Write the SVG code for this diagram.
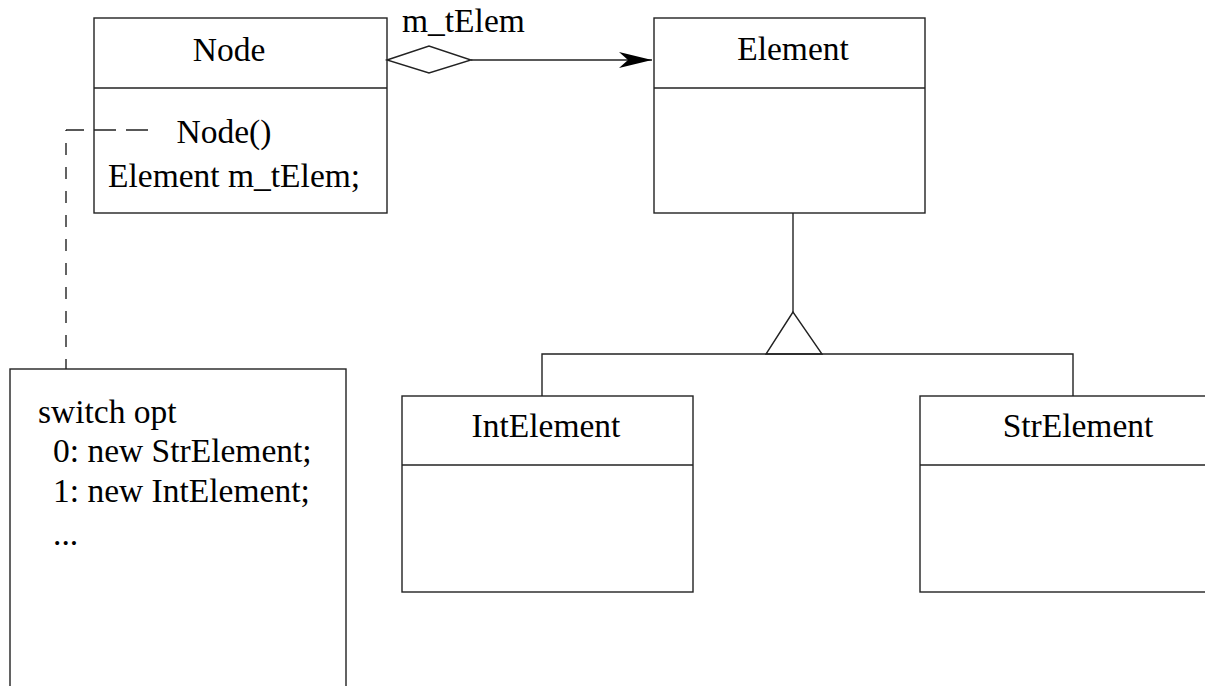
<svg xmlns="http://www.w3.org/2000/svg" width="1205" height="686" viewBox="0 0 1205 686">
<style>
.box{fill:#fff;stroke:#222;stroke-width:1.4}
.ln{fill:none;stroke:#222;stroke-width:1.4}
.dash{fill:none;stroke:#222;stroke-width:1.4}
text{font-family:"Liberation Serif","Times New Roman",serif;font-size:33.5px;fill:#000}
.c{text-anchor:middle}
</style>
<defs>
<marker id="arr" markerWidth="36" markerHeight="18" refX="33" refY="9" orient="auto" markerUnits="userSpaceOnUse">
<path d="M0,1 L33,9 L0,17 L9,9 Z" fill="#000"/>
</marker>
</defs>
<g id="node-Node">
<rect class="box" x="94" y="18" width="293" height="195"/>
<line class="ln" x1="94" y1="88" x2="387" y2="88"/>
<text class="c" x="229" y="61">Node</text>
<text class="c" x="224" y="143">Node()</text>
<text x="108" y="187">Element m_tElem;</text>
</g>
<g id="node-Element">
<rect class="box" x="654" y="18" width="271" height="195"/>
<line class="ln" x1="654" y1="88" x2="925" y2="88"/>
<text class="c" x="793" y="60">Element</text>
</g>
<g id="node-IntElement">
<rect class="box" x="402" y="396" width="291" height="196"/>
<line class="ln" x1="402" y1="465" x2="693" y2="465"/>
<text class="c" x="546" y="437">IntElement</text>
</g>
<g id="node-StrElement">
<rect class="box" x="920" y="396" width="300" height="196"/>
<line class="ln" x1="920" y1="465" x2="1220" y2="465"/>
<text class="c" x="1078" y="437">StrElement</text>
</g>
<g id="node-note">
<rect class="box" x="10" y="369" width="336" height="340"/>
<text x="38" y="423">switch opt</text>
<text x="53" y="462">0: new StrElement;</text>
<text x="53" y="502">1: new IntElement;</text>
<text x="53" y="545">...</text>
</g>
<g id="connectors">
<path class="ln" d="M387,60 L429,46 L471,60 L429,73 Z" fill="#fff"/>
<line class="ln" x1="471" y1="60" x2="652" y2="60" marker-end="url(#arr)"/>
<text x="402" y="32">m_tElem</text>
<line class="ln" x1="793" y1="213" x2="793" y2="312"/>
<path class="ln" d="M793,312 L766,354 L822,354 Z"/>
<path class="ln" d="M542,396 L542,354 L1073,354 L1073,396"/>
<line class="dash" x1="66" y1="369" x2="66" y2="130" stroke-dasharray="12,12" stroke-dashoffset="2"/>
<line class="dash" x1="148" y1="130" x2="66" y2="130" stroke-dasharray="22,10"/>
</g>
</svg>
